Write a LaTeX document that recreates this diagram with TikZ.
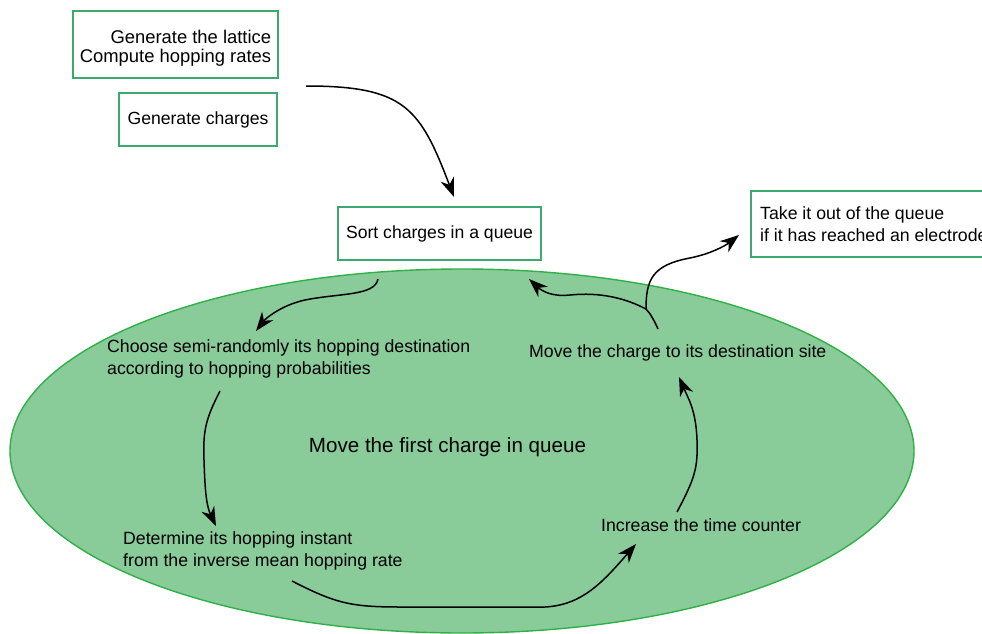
\documentclass[tikz,border=0pt]{standalone}
\usepackage{fontspec}
\setmainfont{Liberation Sans}
\usetikzlibrary{arrows.meta,shapes.geometric}
\definecolor{boxgreen}{RGB}{60,170,110}
\definecolor{ellfill}{RGB}{137,204,153}
\definecolor{elldraw}{RGB}{48,176,72}
\tikzset{
  x=1pt,y=-1pt,
  box/.style={draw=boxgreen,line width=1.4pt,fill=white,inner sep=0pt,font=\fontsize{17.6}{19.5}\selectfont},
  lbl/.style={inner sep=0pt,align=left,anchor=west,font=\fontsize{17.7}{22}\selectfont},
  flow/.style={line width=1.5pt,-{Stealth[length=19pt,width=14pt,inset=6pt]}},
  plain/.style={line width=1.5pt}
}
\begin{document}
\begin{tikzpicture}
\clip (0,0) rectangle (982,634);
\fill[white] (0,0) rectangle (982,634);
% ellipse
\node[ellipse,draw=elldraw,fill=ellfill,line width=1.4pt,minimum width=904,minimum height=364,inner sep=0pt] (ell) at (462,451) {};
% boxes
\node[box,minimum width=205,minimum height=67] (lattice) at (175.5,44.5) {};
\node[align=right,inner sep=0pt,font=\fontsize{18.4}{19.5}\selectfont] (latticetext) at (175.5,48) {Generate the lattice\\Compute hopping rates};
\node[box,minimum width=158,minimum height=53] (gen) at (198,119.5) {Generate charges};
\node[box,minimum width=203,minimum height=53] (sort) at (439.5,233.5) {Sort charges in a queue};
\draw[draw=boxgreen,line width=1.4pt,fill=white] (751,191) rectangle (1010,257);
\node[lbl] (take) at (760,224) {Take it out of the queue\\if it has reached an electrode};
% labels in ellipse
\node[lbl] (choose) at (107,359) {Choose semi-randomly its hopping destination\\according to hopping probabilities};
\node[lbl] (move) at (529,353) {Move the charge to its destination site};
\node[font=\fontsize{20.6}{24}\selectfont,inner sep=0pt] (first) at (447.5,447) {Move the first charge in queue};
\node[lbl] (determine) at (123,551) {Determine its hopping instant\\from the inverse mean hopping rate};
\node[lbl] (increase) at (601,525) {Increase the time counter};
% connector end points
\coordinate (a1s) at (306,86);
\coordinate (a1e) at (454,197);
\coordinate (a2s) at (378,279);
\coordinate (a2e) at (256,331);
\coordinate (a3s) at (220,391);
\coordinate (a3e) at (216,526);
\coordinate (a4s) at (292,581);
\coordinate (a4e) at (636,544);
\coordinate (a5s) at (677,512);
\coordinate (a5e) at (679,377);
\coordinate (a6s) at (658,329);
\coordinate (junc) at (646,309);
\coordinate (a6e) at (529,279);
\coordinate (a7e) at (739,235);
% connectors
\draw[flow] (a1s) .. controls (405,86) and (420,108) .. (a1e);
\draw[flow] (a2s) .. controls (375,296) and (340,293) .. (305,300) .. controls (282,305) and (266,318) .. (a2e);
\draw[flow] (a3s) .. controls (205,420) and (203,432) .. (204,460) .. controls (205,495) and (207,507) .. (a3e);
\draw[flow] (a4s) .. controls (335,603) and (350,607) .. (400,607) -- (545,607) .. controls (582,605) and (602,583) .. (a4e);
\draw[flow] (a5s) .. controls (695,478) and (698,468) .. (697,440) .. controls (696,410) and (688,398) .. (a5e);
\draw[plain] (a6s) .. controls (654,320) and (650,313) .. (junc);
\draw[flow] (junc) .. controls (625,298) and (600,292) .. (570,295) .. controls (552,297) and (542,291) .. (a6e);
\draw[flow] (junc) .. controls (646,280) and (652,265) .. (690,258) .. controls (710,254) and (725,246) .. (a7e);
\end{tikzpicture}
\end{document}
